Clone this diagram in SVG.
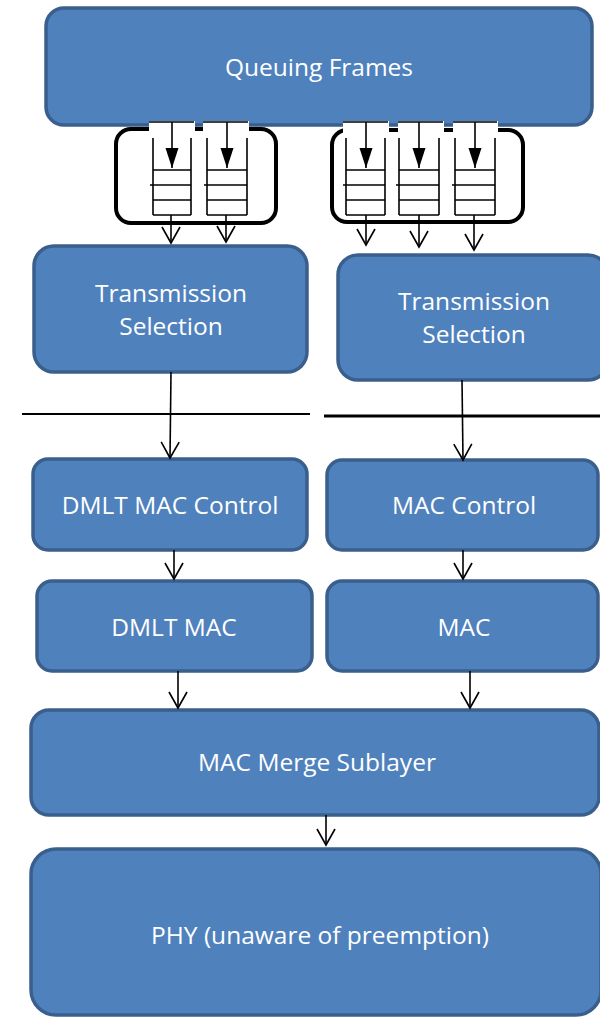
<svg xmlns="http://www.w3.org/2000/svg" width="600" height="1018" viewBox="0 0 600 1018">
  <style>
    .box { fill: #4f81bd; stroke: #3a5f8c; stroke-width: 3.5; }
    .lbl { fill: #ffffff; font-family: "Open Sans", "Liberation Sans", sans-serif; font-size: 24.5px; text-anchor: middle; }
    .frame { fill: none; stroke: #000000; stroke-width: 4; }
    .panel { fill: #ffffff; stroke: none; }
    .q { stroke: #000000; stroke-width: 1.6; fill: none; }
    .conn { stroke: #000000; stroke-width: 1.6; fill: none; }
    .sep { stroke: #000000; fill: none; }
  </style>
  <defs>
    <marker id="open" markerUnits="userSpaceOnUse" viewBox="-18 -11 20 22" refX="0" refY="0" markerWidth="20" markerHeight="22" orient="auto" overflow="visible">
      <path d="M-16,-9 L0,0 L-16,9" fill="none" stroke="#000000" stroke-width="1.6"/>
    </marker>
    <marker id="solid" markerUnits="userSpaceOnUse" viewBox="-21 -8 22 16" refX="0" refY="0" markerWidth="22" markerHeight="16" orient="auto" overflow="visible">
      <path d="M-20,-6.5 L0,0 L-20,6.5 Z" fill="#000000"/>
    </marker>
  </defs>

  <rect width="600" height="1018" fill="#ffffff"/>

  <!-- top block -->
  <g id="queuing-frames">
    <rect class="box" x="46" y="8" width="546" height="117" rx="18"/>
    <text class="lbl" x="319" y="76">Queuing Frames</text>
  </g>

  <!-- left queue set (two queues) -->
  <g id="queues-left">
    <rect class="frame" x="116" y="129" width="160" height="94" rx="15"/>
    <rect class="panel" x="149" y="121" width="46" height="16"/>
    <rect class="panel" x="203" y="121" width="46" height="16"/>
    <g class="q">
      <line x1="149" y1="122" x2="194" y2="122"/>
      <line x1="153" y1="138" x2="153" y2="215"/>
      <line x1="191" y1="138" x2="191" y2="215"/>
      <line x1="153" y1="170" x2="191" y2="170"/>
      <line x1="150" y1="185" x2="191" y2="185"/>
      <line x1="153" y1="200" x2="191" y2="200"/>
      <line x1="153" y1="215" x2="191" y2="215"/>
      <line x1="172" y1="122" x2="172" y2="168" marker-end="url(#solid)"/>

      <line x1="203" y1="122" x2="248" y2="122"/>
      <line x1="207" y1="138" x2="207" y2="215"/>
      <line x1="247" y1="138" x2="247" y2="215"/>
      <line x1="207" y1="170" x2="247" y2="170"/>
      <line x1="204" y1="185" x2="247" y2="185"/>
      <line x1="207" y1="200" x2="247" y2="200"/>
      <line x1="207" y1="215" x2="247" y2="215"/>
      <line x1="227" y1="122" x2="227" y2="168" marker-end="url(#solid)"/>
    </g>
  </g>

  <!-- right queue set (three queues) -->
  <g id="queues-right">
    <rect class="frame" x="332" y="130" width="191" height="92" rx="15"/>
    <rect class="panel" x="343" y="121" width="46" height="16"/>
    <rect class="panel" x="398" y="121" width="46" height="16"/>
    <rect class="panel" x="453" y="121" width="45" height="16"/>
    <g class="q">
      <line x1="343" y1="122" x2="388" y2="122"/>
      <line x1="346" y1="138" x2="346" y2="215"/>
      <line x1="385" y1="138" x2="385" y2="215"/>
      <line x1="346" y1="170" x2="385" y2="170"/>
      <line x1="343" y1="185" x2="385" y2="185"/>
      <line x1="346" y1="200" x2="385" y2="200"/>
      <line x1="346" y1="215" x2="385" y2="215"/>
      <line x1="366" y1="122" x2="366" y2="168" marker-end="url(#solid)"/>

      <line x1="398" y1="122" x2="443" y2="122"/>
      <line x1="399" y1="138" x2="399" y2="215"/>
      <line x1="439" y1="138" x2="439" y2="215"/>
      <line x1="399" y1="170" x2="439" y2="170"/>
      <line x1="396" y1="185" x2="439" y2="185"/>
      <line x1="399" y1="200" x2="439" y2="200"/>
      <line x1="399" y1="215" x2="439" y2="215"/>
      <line x1="419" y1="122" x2="419" y2="168" marker-end="url(#solid)"/>

      <line x1="453" y1="122" x2="497" y2="122"/>
      <line x1="455" y1="138" x2="455" y2="215"/>
      <line x1="495" y1="138" x2="495" y2="215"/>
      <line x1="455" y1="170" x2="495" y2="170"/>
      <line x1="452" y1="185" x2="495" y2="185"/>
      <line x1="455" y1="200" x2="495" y2="200"/>
      <line x1="455" y1="215" x2="495" y2="215"/>
      <line x1="475" y1="122" x2="475" y2="168" marker-end="url(#solid)"/>
    </g>
  </g>

  <g id="ts-left">
    <rect class="box" x="34" y="246" width="273" height="126" rx="20"/>
    <text class="lbl" x="171" y="302">Transmission</text>
    <text class="lbl" x="171" y="335">Selection</text>
  </g>

  <g id="ts-right">
    <rect class="box" x="338" y="255" width="270" height="125" rx="20"/>
    <text class="lbl" x="474" y="310">Transmission</text>
    <text class="lbl" x="474" y="343">Selection</text>
  </g>

  <!-- layer boundary -->
  <g id="boundary">
    <line class="sep" x1="22" y1="414" x2="310" y2="414" stroke-width="2"/>
    <line class="sep" x1="324" y1="416" x2="600" y2="416" stroke-width="3"/>
  </g>

  <g id="dmlt-mac-control">
    <rect class="box" x="33" y="459" width="274" height="91" rx="15"/>
    <text class="lbl" x="170" y="514">DMLT MAC Control</text>
  </g>

  <g id="mac-control">
    <rect class="box" x="327" y="460" width="271" height="90" rx="15"/>
    <text class="lbl" x="464" y="514">MAC Control</text>
  </g>

  <g id="dmlt-mac">
    <rect class="box" x="37" y="581" width="275" height="90" rx="15"/>
    <text class="lbl" x="174" y="636">DMLT MAC</text>
  </g>

  <g id="mac">
    <rect class="box" x="327" y="581" width="271" height="90" rx="15"/>
    <text class="lbl" x="464" y="636">MAC</text>
  </g>

  <g id="mac-merge">
    <rect class="box" x="31" y="710" width="568" height="105" rx="18"/>
    <text class="lbl" x="317" y="771">MAC Merge Sublayer</text>
  </g>

  <g id="phy">
    <rect class="box" x="31" y="849" width="570" height="166" rx="25"/>
    <text class="lbl" x="320" y="944">PHY (unaware of preemption)</text>
  </g>

  <!-- connectors -->
  <g id="connectors" class="conn">
    <line x1="171" y1="215" x2="171" y2="243" marker-end="url(#open)"/>
    <line x1="226" y1="215" x2="226" y2="242" marker-end="url(#open)"/>
    <line x1="366" y1="215" x2="366" y2="245" marker-end="url(#open)"/>
    <line x1="419" y1="215" x2="419" y2="247" marker-end="url(#open)"/>
    <line x1="474" y1="215" x2="474" y2="250" marker-end="url(#open)"/>

    <line x1="171" y1="372" x2="170" y2="458" marker-end="url(#open)"/>
    <line x1="462" y1="380" x2="463" y2="460" marker-end="url(#open)"/>

    <line x1="174" y1="550" x2="174" y2="579" marker-end="url(#open)"/>
    <line x1="463" y1="550" x2="463" y2="579" marker-end="url(#open)"/>

    <line x1="178" y1="671" x2="178" y2="708" marker-end="url(#open)"/>
    <line x1="470" y1="671" x2="470" y2="708" marker-end="url(#open)"/>

    <line x1="326" y1="815" x2="326" y2="845" marker-end="url(#open)"/>
  </g>
</svg>
